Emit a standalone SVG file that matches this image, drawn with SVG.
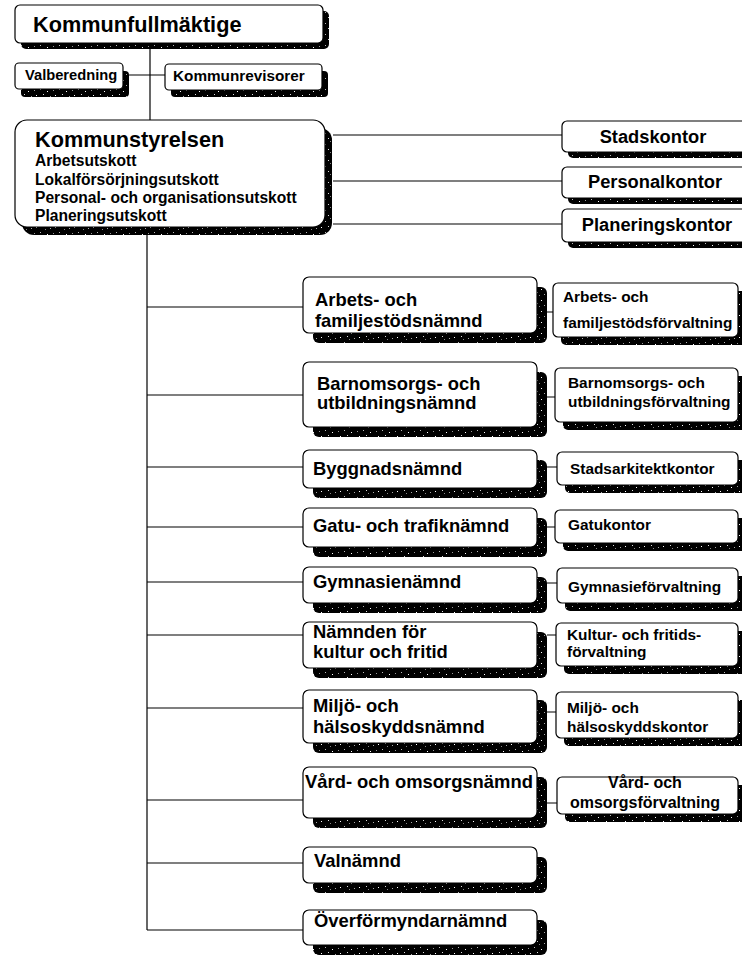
<svg xmlns="http://www.w3.org/2000/svg" width="742" height="955" viewBox="0 0 742 955">
  <defs>
    <!-- speckled black fill used for the drop shadows -->
    <pattern id="grain" width="19" height="11" patternUnits="userSpaceOnUse">
      <rect width="19" height="11" fill="#000"/>
      <rect x="2" y="1" width="1" height="1" fill="#bbb"/>
      <rect x="9" y="3" width="1" height="1" fill="#fff"/>
      <rect x="15" y="2" width="1" height="1" fill="#999"/>
      <rect x="5" y="6" width="1" height="1" fill="#ddd"/>
      <rect x="12" y="8" width="1" height="1" fill="#aaa"/>
      <rect x="17" y="7" width="1" height="1" fill="#fff"/>
      <rect x="7" y="9" width="1" height="1" fill="#888"/>
    </pattern>
    <style>
      .box { fill: #fff; stroke: #000; stroke-width: 1.2; }
      .sh { fill: url(#grain); }
      .wire { stroke: #000; stroke-width: 1.2; fill: none; }
      text { font-family: "Liberation Sans", Arial, Helvetica, sans-serif; font-weight: bold; fill: #000; }
      .t21 { font-size: 21.7px; }
      .t18 { font-size: 18.4px; }
      .t15 { font-size: 15.4px; }
      .sub { font-size: 15.6px; }
      .top { font-size: 18.3px; }
      .mid { text-anchor: middle; }
    </style>
  </defs>

  <!-- connectors -->
  <g id="connectors">
    <path class="wire" d="M150 49 V120"/>
    <path class="wire" d="M129 75 H165"/>
    <path class="wire" d="M333 135 H562 M333 181 H562 M333 224 H562"/>
    <path class="wire" d="M147 235 V930"/>
    <path class="wire" d="M147 307 H303 M147 395 H303 M147 467 H303 M147 527 H303 M147 582 H303 M147 635 H303 M147 708 H303 M147 800 H303 M147 863 H303 M147 930 H303"/>
    <path class="wire" d="M547 312 H553 M547 397 H555 M547 467 H557 M547 527 H555 M547 583 H557 M547 635 H556 M547 712 H556 M547 803 H557"/>
  </g>

  <!-- council level -->
  <g id="kommunfullmaktige">
    <rect class="sh" x="21" y="11" width="308" height="38" rx="5"/>
    <rect class="box" x="15" y="5" width="308" height="38" rx="5"/>
    <text class="t21" x="33" y="32">Kommunfullmäktige</text>
  </g>
  <g id="valberedning">
    <rect class="sh" x="21" y="71" width="108" height="26" rx="4"/>
    <rect class="box" x="15" y="63" width="108" height="26" rx="4"/>
    <text x="25" y="80" style="font-size:14.7px">Valberedning</text>
  </g>
  <g id="kommunrevisorer">
    <rect class="sh" x="171" y="71" width="157" height="26" rx="4"/>
    <rect class="box" x="165" y="64" width="157" height="26" rx="4"/>
    <text x="173" y="81" style="font-size:15.3px">Kommunrevisorer</text>
  </g>

  <!-- executive board -->
  <g id="kommunstyrelsen">
    <rect class="sh" x="22" y="128" width="310" height="107" rx="12"/>
    <rect class="box" x="15" y="120" width="310" height="107" rx="12"/>
    <text class="t21" x="35" y="147">Kommunstyrelsen</text>
    <text class="sub" x="35" y="166">Arbetsutskott</text>
    <text class="sub" x="35" y="185">Lokalförsörjningsutskott</text>
    <text class="sub" x="35" y="203">Personal- och organisationsutskott</text>
    <text class="sub" x="35" y="221">Planeringsutskott</text>
  </g>

  <g id="stadskontor">
    <rect class="sh" x="568" y="127" width="200" height="31" rx="5"/>
    <rect class="box" x="562" y="121" width="200" height="31" rx="5"/>
    <text class="top mid" x="653" y="143">Stadskontor</text>
  </g>
  <g id="personalkontor">
    <rect class="sh" x="568" y="173" width="200" height="31" rx="5"/>
    <rect class="box" x="562" y="167" width="200" height="31" rx="5"/>
    <text class="top mid" x="655" y="188">Personalkontor</text>
  </g>
  <g id="planeringskontor">
    <rect class="sh" x="568" y="215" width="200" height="33" rx="5"/>
    <rect class="box" x="562" y="209" width="200" height="33" rx="5"/>
    <text class="top mid" x="657" y="231">Planeringskontor</text>
  </g>

  <!-- committees -->
  <g id="n-arbets">
    <rect class="sh" x="313" y="287" width="234" height="56" rx="6"/>
    <rect class="box" x="303" y="277" width="234" height="56" rx="6"/>
    <text class="t18" x="315" y="306">Arbets- och</text>
    <text class="t18" x="315" y="327">familjestödsnämnd</text>
  </g>
  <g id="n-barnomsorg">
    <rect class="sh" x="313" y="372" width="234" height="65" rx="6"/>
    <rect class="box" x="303" y="362" width="234" height="65" rx="6"/>
    <text class="t18" x="317" y="390">Barnomsorgs- och</text>
    <text class="t18" x="317" y="409">utbildningsnämnd</text>
  </g>
  <g id="n-bygg">
    <rect class="sh" x="313" y="460" width="234" height="38" rx="6"/>
    <rect class="box" x="303" y="450" width="234" height="38" rx="6"/>
    <text class="t18" x="313" y="475">Byggnadsnämnd</text>
  </g>
  <g id="n-gatu">
    <rect class="sh" x="313" y="518" width="234" height="39" rx="6"/>
    <rect class="box" x="303" y="508" width="234" height="39" rx="6"/>
    <text class="t18" x="313" y="532">Gatu- och trafiknämnd</text>
  </g>
  <g id="n-gymnasie">
    <rect class="sh" x="313" y="577" width="234" height="36" rx="6"/>
    <rect class="box" x="303" y="567" width="234" height="36" rx="6"/>
    <text class="t18" x="313" y="588">Gymnasienämnd</text>
  </g>
  <g id="n-kultur">
    <rect class="sh" x="313" y="632" width="234" height="46" rx="6"/>
    <rect class="box" x="303" y="622" width="234" height="46" rx="6"/>
    <text class="t18" x="313" y="638">Nämnden för</text>
    <text class="t18" x="313" y="658">kultur och fritid</text>
  </g>
  <g id="n-miljo">
    <rect class="sh" x="313" y="700" width="234" height="53" rx="6"/>
    <rect class="box" x="303" y="690" width="234" height="53" rx="6"/>
    <text class="t18" x="313" y="712">Miljö- och</text>
    <text class="t18" x="313" y="733">hälsoskyddsnämnd</text>
  </g>
  <g id="n-vard">
    <rect class="sh" x="313" y="777" width="234" height="51" rx="6"/>
    <rect class="box" x="303" y="767" width="234" height="51" rx="6"/>
    <text class="t18" x="305" y="788">Vård- och omsorgsnämnd</text>
  </g>
  <g id="n-val">
    <rect class="sh" x="313" y="857" width="234" height="36" rx="6"/>
    <rect class="box" x="303" y="847" width="234" height="36" rx="6"/>
    <text class="t18" x="314" y="867">Valnämnd</text>
  </g>
  <g id="n-overformyndar">
    <rect class="sh" x="313" y="920" width="234" height="35" rx="6"/>
    <rect class="box" x="303" y="910" width="234" height="35" rx="6"/>
    <text class="t18" x="314" y="927">Överförmyndarnämnd</text>
  </g>

  <!-- administrations -->
  <g id="f-arbets">
    <rect class="sh" x="561" y="291" width="185" height="54" rx="5"/>
    <rect class="box" x="553" y="283" width="185" height="54" rx="5"/>
    <text class="t15" x="563" y="302">Arbets- och</text>
    <text class="t15" x="563" y="328">familjestödsförvaltning</text>
  </g>
  <g id="f-barnomsorg">
    <rect class="sh" x="563" y="376" width="183" height="54" rx="5"/>
    <rect class="box" x="555" y="368" width="183" height="54" rx="5"/>
    <text class="t15" x="568" y="388">Barnomsorgs- och</text>
    <text class="t15" x="568" y="407">utbildningsförvaltning</text>
  </g>
  <g id="f-stadsarkitekt">
    <rect class="sh" x="565" y="460" width="181" height="33" rx="5"/>
    <rect class="box" x="557" y="452" width="181" height="33" rx="5"/>
    <text class="t15" x="570" y="474">Stadsarkitektkontor</text>
  </g>
  <g id="f-gatu">
    <rect class="sh" x="563" y="518" width="183" height="33" rx="5"/>
    <rect class="box" x="555" y="510" width="183" height="33" rx="5"/>
    <text class="t15" x="568" y="530">Gatukontor</text>
  </g>
  <g id="f-gymnasie">
    <rect class="sh" x="565" y="576" width="181" height="35" rx="5"/>
    <rect class="box" x="557" y="568" width="181" height="35" rx="5"/>
    <text class="t15" x="568" y="592">Gymnasieförvaltning</text>
  </g>
  <g id="f-kultur">
    <rect class="sh" x="564" y="631" width="182" height="43" rx="5"/>
    <rect class="box" x="556" y="623" width="182" height="43" rx="5"/>
    <text class="t15" x="567" y="640">Kultur- och fritids-</text>
    <text class="t15" x="567" y="657">förvaltning</text>
  </g>
  <g id="f-miljo">
    <rect class="sh" x="564" y="700" width="182" height="46" rx="5"/>
    <rect class="box" x="556" y="692" width="182" height="46" rx="5"/>
    <text class="t15" x="567" y="713">Miljö- och</text>
    <text class="t15" x="567" y="732">hälsoskyddskontor</text>
  </g>
  <g id="f-vard">
    <rect class="sh" x="565" y="785" width="181" height="37" rx="5"/>
    <rect class="box" x="557" y="777" width="181" height="37" rx="5"/>
    <text class="mid" x="645" y="788" style="font-size:16px">Vård- och</text>
    <text class="mid" x="645" y="808" style="font-size:16px">omsorgsförvaltning</text>
  </g>
</svg>
